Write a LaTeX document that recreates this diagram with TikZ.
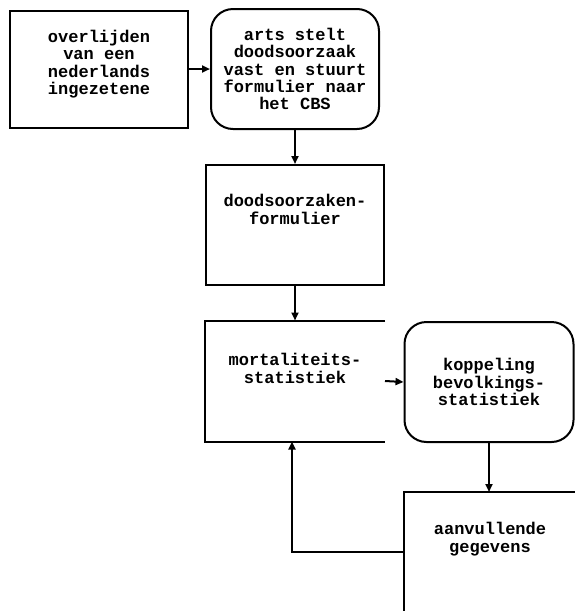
\documentclass[tikz,border=0pt]{standalone}
\usepackage{fontspec}
\newfontfamily\plotfont{Liberation Mono}
\usetikzlibrary{arrows.meta}
\tikzset{
  blok/.style={draw,line width=2pt,inner sep=0pt,align=center,font=\plotfont\bfseries\fontsize{17}{17.3}\selectfont},
  rblok/.style={blok,rounded corners=22pt},
  open/.style={blok,draw=none},
  pijl/.style={line width=2pt,-{Triangle[length=8pt,width=7pt]}}
}
\begin{document}
\begin{tikzpicture}[x=1pt,y=-1pt]
        \useasboundingbox (0,0) rectangle (574,611);
        \node[blok,minimum width=178pt,minimum height=117pt] (over) at (99,69) {overlijden\\van een\\nederlands\\ingezetene\\[-4pt]};
        \node[rblok,minimum width=168pt,minimum height=120pt] (arts) at (295,69) {arts stelt\\doodsoorzaak\\vast en stuurt\\formulier naar\\het CBS};
        \node[blok,minimum width=178pt,minimum height=120pt] (form) at (295,225) {doodsoorzaken-\\formulier\\[14pt]};
        \node[open,minimum width=178pt,minimum height=119pt] (mort) at (295,381) {mortaliteits-\\statistiek\\[8pt]};
        \node[rblok,minimum width=169pt,minimum height=120pt] (kopp) at (489,382) {koppeling\\bevolkings-\\statistiek};
        \node[open,minimum width=171pt,minimum height=118pt] (aanv) at (490,552) {aanvullende\\gegevens\\[12pt]};
        % open kanten
        \draw[line width=2pt] (mort.north east) -- (mort.north west) -- (mort.south west) -- (mort.south east);
        \draw[line width=2pt] (aanv.north east) -- (aanv.north west) -- (aanv.south west);
        % pijlen
        \draw[pijl] (over) -- (arts);
        \draw[pijl] (arts) -- (form);
        \draw[pijl] (form) -- (mort);
        \draw[pijl] (mort.east) -- (kopp.west);
        \draw[pijl] (kopp.south) -- (kopp.south |- aanv.north);
        \draw[pijl] (aanv.west) -| ([xshift=-3pt]mort.south);
    \end{tikzpicture}
\end{document}
